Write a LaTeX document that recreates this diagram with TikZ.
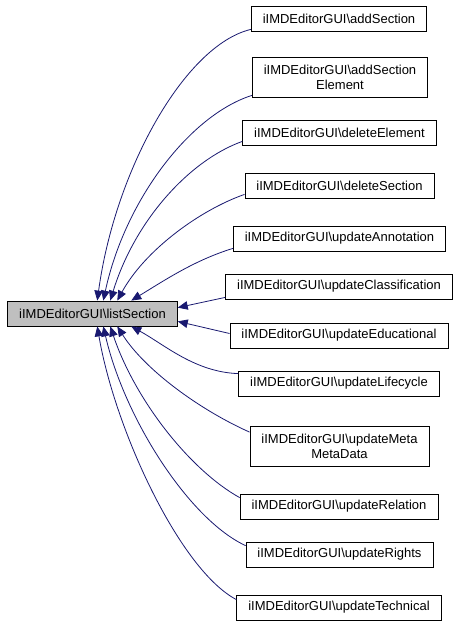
\documentclass[tikz,border=0pt]{standalone}
\usepackage{fontspec}
\setmainfont{Liberation Sans}
\usetikzlibrary{arrows.meta,calc}
\definecolor{edgeblue}{HTML}{191970}
\definecolor{maingray}{HTML}{BFBFBF}
\begin{document}
\begin{tikzpicture}[x=1pt,y=-1pt,
  box/.style={draw=black,line width=0.8pt,fill=white,inner xsep=11.5pt,inner ysep=0pt,minimum height=25pt,align=center,font=\fontsize{13}{15}\selectfont},
  mainbox/.style={box,fill=maingray},
  arr/.style={draw=edgeblue,line width=0.8pt,-{Triangle[length=10pt,width=8.5pt]},shorten >=0pt}]
\useasboundingbox (0,0) rectangle (460,627);
\node[mainbox] (m) at (92.5,313.5) {iIMDEditorGUI\textbackslash listSection};
\node[box] (a1) at (339,18.5) {iIMDEditorGUI\textbackslash addSection};
\node[box,minimum height=40pt] (a2) at (340,77) {iIMDEditorGUI\textbackslash addSection\\Element};
\node[box] (a3) at (339.5,132.5) {iIMDEditorGUI\textbackslash deleteElement};
\node[box] (a4) at (339.5,185.5) {iIMDEditorGUI\textbackslash deleteSection};
\node[box] (a5) at (339.5,238.5) {iIMDEditorGUI\textbackslash updateAnnotation};
\node[box] (a6) at (339,286.5) {iIMDEditorGUI\textbackslash updateClassification};
\node[box] (a7) at (339,335.5) {iIMDEditorGUI\textbackslash updateEducational};
\node[box] (a8) at (339,383.5) {iIMDEditorGUI\textbackslash updateLifecycle};
\node[box,minimum height=40pt] (a9) at (339.5,446.5) {iIMDEditorGUI\textbackslash updateMeta\\MetaData};
\node[box] (a10) at (339,506.5) {iIMDEditorGUI\textbackslash updateRelation};
\node[box] (a11) at (339.5,554.5) {iIMDEditorGUI\textbackslash updateRights};
\node[box] (a12) at (339,607.5) {iIMDEditorGUI\textbackslash updateTechnical};
\path[arr] ($(a1.south west)+(0,-2)$) .. controls (185,45) and (115,170) .. ($(m.north west)+(90,0)$);
\path[arr] ($(a2.south west)+(0,-2)$) .. controls (190,115) and (125,200) .. ($(m.north west)+(96,0)$);
\path[arr] ($(a3.south west)+(0,-4)$) .. controls (190,160) and (135,220) .. ($(m.north west)+(103,0)$);
\path[arr] ($(a4.south west)+(0,-4)$) .. controls (200,210) and (145,250) .. ($(m.north west)+(110,0)$);
\path[arr] ($(a5.south west)+(0,-3)$) .. controls (195,260) and (165,280) .. ($(m.north west)+(124,0)$);
\path[arr] ($(a6.south west)+(0,-2)$) -- ($(m.north east)+(0,7)$);
\path[arr] ($(a7.west)+(0,-2)$) -- ($(m.south east)+(0,-5)$);
\path[arr] ($(a8.north west)+(0,3)$) .. controls (195,372) and (165,345) .. ($(m.south west)+(124,0)$);
\path[arr] ($(a9.north west)+(0,6)$) .. controls (200,410) and (145,370) .. ($(m.south west)+(110,0)$);
\path[arr] ($(a10.north west)+(0,4)$) .. controls (190,470) and (135,400) .. ($(m.south west)+(103,0)$);
\path[arr] ($(a11.north west)+(0,4)$) .. controls (190,520) and (125,420) .. ($(m.south west)+(96,0)$);
\path[arr] ($(a12.north west)+(0,5)$) .. controls (180,570) and (115,430) .. ($(m.south west)+(90,0)$);
\end{tikzpicture}
\end{document}
